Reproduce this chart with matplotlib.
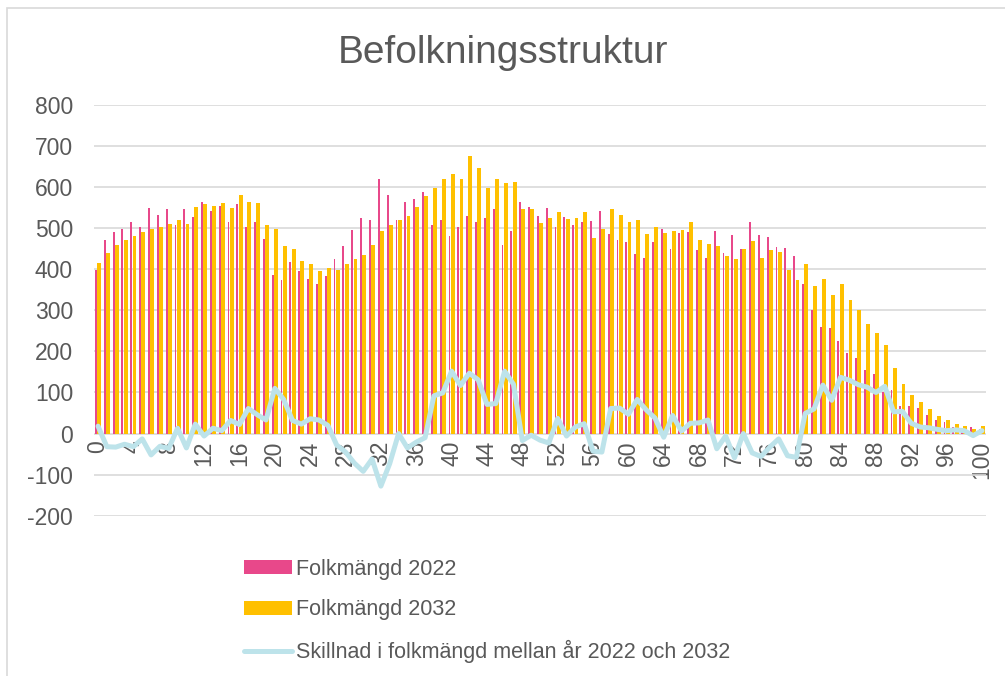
import matplotlib
matplotlib.use("Agg")
import matplotlib.pyplot as plt
from matplotlib.patches import Patch, Rectangle
from matplotlib.lines import Line2D
import numpy as np

plt.rcParams['font.family'] = ['Liberation Sans', 'DejaVu Sans']

ages = list(range(0, 101))
pop2022 = [398, 471, 491, 497, 514, 504, 550, 533, 547, 507,
           546, 528, 565, 541, 554, 516, 559, 502, 515, 474,
           387, 373, 418, 397, 376, 363, 383, 426, 457, 496,
           526, 520, 621, 580, 520, 565, 572, 589, 507, 520,
           481, 504, 530, 515, 526, 546, 459, 493, 563, 551,
           529, 548, 502, 528, 509, 515, 518, 543, 485, 471,
           467, 438, 428, 466, 497, 449, 489, 490, 446, 428,
           493, 439, 483, 450, 515, 483, 479, 454, 453, 433,
           363, 300, 259, 257, 226, 195, 183, 154, 146, 100,
           107, 66, 68, 62, 46, 32, 27, 15, 11, 16, 12]
pop2032 = [416, 439, 458, 471, 482, 491, 498, 502, 511, 520,
           511, 551, 559, 554, 561, 548, 581, 563, 561, 507,
           497, 456, 450, 420, 412, 396, 403, 398, 412, 424,
           434, 458, 493, 507, 520, 530, 551, 579, 599, 619,
           633, 621, 677, 646, 597, 619, 611, 613, 546, 547,
           513, 525, 539, 522, 525, 539, 475, 498, 546, 533,
           514, 521, 486, 504, 488, 493, 495, 515, 472, 461,
           456, 433, 424, 450, 468, 427, 446, 441, 399, 375,
           412, 360, 377, 338, 363, 325, 302, 267, 246, 215,
           160, 120, 93, 78, 60, 42, 34, 24, 18, 11, 19]
# Skillnad = 2032 - 2022
diff = [b - a for a, b in zip(pop2022, pop2032)]

xtick_labels = [str(a) for a in range(0, 101, 4)]
yticks = [-200, -100, 0, 100, 200, 300, 400, 500, 600, 700, 800]

labels = ['Folkmängd 2022', 'Folkmängd 2032',
          'Skillnad i folkmängd mellan år 2022 och 2032']
title = 'Befolkningsstruktur'

PINK = '#E8488A'
YELLOW = '#FFC000'
BLUE = '#BDE3EA'
GRID = '#D9D9D9'
TXT = '#595959'

W, H = 1005, 676
fig = plt.figure(figsize=(W / 100, H / 100), dpi=100)
ax = fig.add_axes([93.6 / W, 1 - 515.7 / H, (986.4 - 93.6) / W, (515.7 - 105) / H])

x = np.arange(len(ages))
ax.bar(x - 0.24, pop2022, width=0.21, color=PINK, zorder=2)
ax.bar(x + 0.125, pop2032, width=0.44, color=YELLOW, zorder=3)
ax.plot(x, diff, color=BLUE, lw=3.6, solid_joinstyle='round',
        solid_capstyle='round', zorder=4)

ax.spines['bottom'].set_position(('data', 0))
for s in ax.spines.values():
    s.set_visible(False)

ax.set_xlim(-0.5, 100.5)
ax.set_ylim(-200, 800)
ax.set_yticks(yticks)
ax.set_yticklabels([str(v) for v in yticks])
ax.set_xticks(list(range(0, 101, 4)))
ax.set_xticklabels(xtick_labels)
ax.tick_params(axis='both', length=0, labelsize=16.5, labelcolor=TXT)
ax.tick_params(axis='y', pad=14.8)
ax.tick_params(axis='x', pad=5, labelrotation=90)
ax.yaxis.grid(True, color=GRID, lw=1.2)
ax.set_axisbelow(True)

fig.text(0.5, 1 - 63 / H, title, ha='center', va='baseline',
         fontsize=28, color=TXT)

handles = [Patch(facecolor=PINK, edgecolor='none'),
           Patch(facecolor=YELLOW, edgecolor='none'),
           Line2D([0], [0], color=BLUE, lw=3.6, solid_capstyle='round')]
fig.legend(handles, labels, loc='upper left',
           bbox_to_anchor=(244 / W, 1 - 558.5 / H), frameon=False,
           fontsize=15.5, labelcolor=TXT, borderpad=0, borderaxespad=0,
           handlelength=2.23, handleheight=0.6, handletextpad=0.2,
           labelspacing=0.92)

fig.add_artist(Rectangle((7 / W, -0.1), 2, 1 - 8 / H + 0.1,
                         transform=fig.transFigure, fill=False,
                         edgecolor=GRID, lw=1.2))

fig.savefig('out.png', dpi=100)
